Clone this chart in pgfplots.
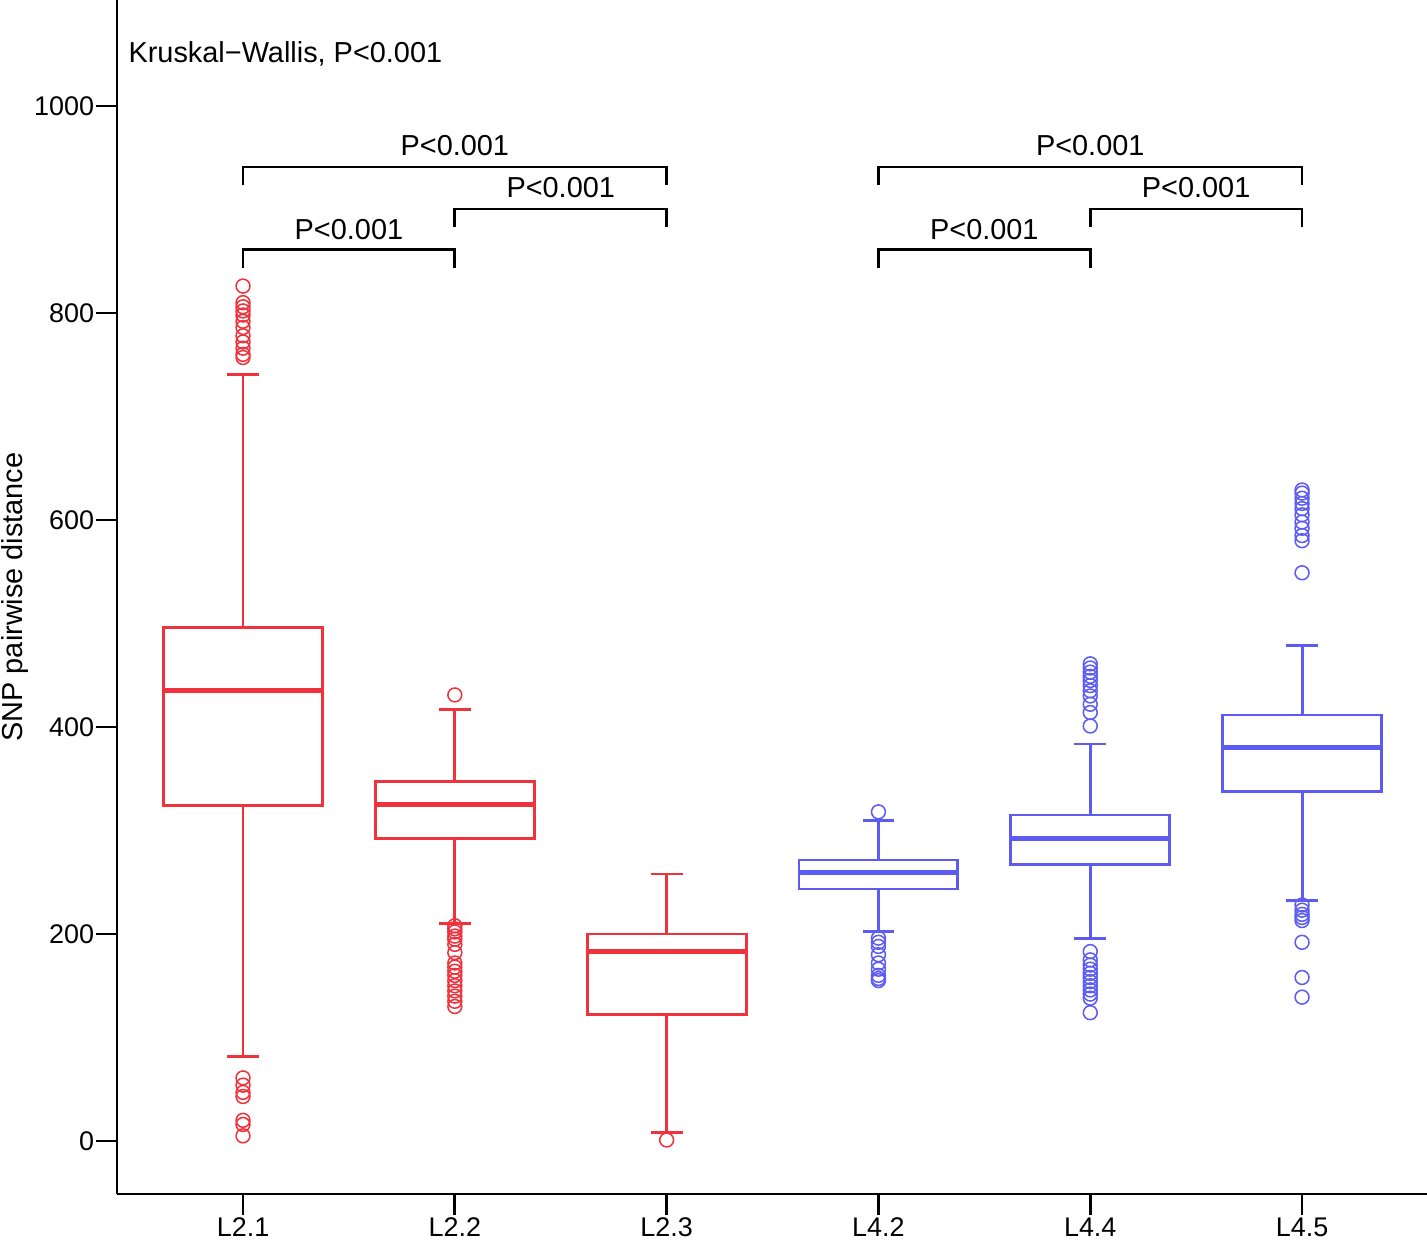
\documentclass[border=0pt]{standalone}
\usepackage{fontspec}
\setmainfont{Liberation Sans}
\usepackage{pgfplots}
\pgfplotsset{compat=1.18}
\definecolor{rd}{RGB}{240,50,60}
\definecolor{bl}{RGB}{92,92,245}
\newcommand{\fs}{\fontsize{9.7pt}{11.6pt}\selectfont}
\newcommand{\fa}{\fontsize{10.4pt}{12.4pt}\selectfont}
\begin{document}
\begin{tikzpicture}
\useasboundingbox (-42.12pt,-18.36pt) rectangle (471.6pt,429.84pt);
\begin{axis}[
  scale only axis, width=471.6pt, height=429.84pt,
  at={(0,0)}, anchor=south west,
  xmin=0.405, xmax=6.59, ymin=-51.2, ymax=1102.4,
  axis x line*=bottom, axis y line*=left,
  axis line style={line width=1pt},
  every tick/.style={line width=1pt, black},
  tick align=outside, major tick length=7.5pt,
  xtick={1,2,3,4,5,6},
  xticklabels={L2.1,L2.2,L2.3,L4.2,L4.4,L4.5},
  ytick={0,200,400,600,800,1000},
  /pgf/number format/assume math mode=true,
  /pgf/number format/1000 sep={},
  ticklabel style={font=\fs},
  xticklabel style={yshift=2.4pt},
  yticklabel style={xshift=2.8pt},
  ylabel={SNP pairwise distance},
  ylabel style={font=\fa, at={(axis description cs:-0.0778,0.5)}, anchor=center},
  clip=false,
  every axis plot/.append style={line join=miter},
]
% ---- L2.1
\addplot[rd, line width=1.05pt] coordinates {(0.625,324.6) (1.375,324.6) (1.375,495.7) (0.625,495.7) (0.625,324.6)} -- cycle;
\addplot[rd, line width=1.8pt] coordinates {(0.625,434.8) (1.375,434.8)};
\addplot[rd, line width=1.05pt] coordinates {(1,495.7) (1,741)};
\addplot[rd, line width=1.05pt] coordinates {(1,324.6) (1,82)};
\addplot[rd, line width=1.05pt] coordinates {(0.925,741) (1.075,741)};
\addplot[rd, line width=1.05pt] coordinates {(0.925,82) (1.075,82)};
% ---- L2.2
\addplot[rd, line width=1.05pt] coordinates {(1.625,292) (2.375,292) (2.375,347) (1.625,347) (1.625,292)} -- cycle;
\addplot[rd, line width=1.8pt] coordinates {(1.625,325) (2.375,325)};
\addplot[rd, line width=1.05pt] coordinates {(2,347) (2,417)};
\addplot[rd, line width=1.05pt] coordinates {(2,292) (2,210)};
\addplot[rd, line width=1.05pt] coordinates {(1.925,417) (2.075,417)};
\addplot[rd, line width=1.05pt] coordinates {(1.925,210) (2.075,210)};
% ---- L2.3
\addplot[rd, line width=1.05pt] coordinates {(2.625,122) (3.375,122) (3.375,200) (2.625,200) (2.625,122)} -- cycle;
\addplot[rd, line width=1.8pt] coordinates {(2.625,183) (3.375,183)};
\addplot[rd, line width=1.05pt] coordinates {(3,200) (3,258)};
\addplot[rd, line width=1.05pt] coordinates {(3,122) (3,8)};
\addplot[rd, line width=1.05pt] coordinates {(2.925,258) (3.075,258)};
\addplot[rd, line width=1.05pt] coordinates {(2.925,8) (3.075,8)};
% ---- L4.2
\addplot[bl, line width=1.05pt] coordinates {(3.625,243.5) (4.375,243.5) (4.375,271.5) (3.625,271.5) (3.625,243.5)} -- cycle;
\addplot[bl, line width=1.8pt] coordinates {(3.625,259) (4.375,259)};
\addplot[bl, line width=1.05pt] coordinates {(4,271.5) (4,310)};
\addplot[bl, line width=1.05pt] coordinates {(4,243.5) (4,202)};
\addplot[bl, line width=1.05pt] coordinates {(3.925,310) (4.075,310)};
\addplot[bl, line width=1.05pt] coordinates {(3.925,202) (4.075,202)};
% ---- L4.4
\addplot[bl, line width=1.05pt] coordinates {(4.625,267.6) (5.375,267.6) (5.375,315) (4.625,315) (4.625,267.6)} -- cycle;
\addplot[bl, line width=1.8pt] coordinates {(4.625,292) (5.375,292)};
\addplot[bl, line width=1.05pt] coordinates {(5,315) (5,383.6)};
\addplot[bl, line width=1.05pt] coordinates {(5,267.6) (5,196)};
\addplot[bl, line width=1.05pt] coordinates {(4.925,383.6) (5.075,383.6)};
\addplot[bl, line width=1.05pt] coordinates {(4.925,196) (5.075,196)};
% ---- L4.5
\addplot[bl, line width=1.05pt] coordinates {(5.625,338) (6.375,338) (6.375,411.6) (5.625,411.6) (5.625,338)} -- cycle;
\addplot[bl, line width=1.8pt] coordinates {(5.625,380) (6.375,380)};
\addplot[bl, line width=1.05pt] coordinates {(6,411.6) (6,479)};
\addplot[bl, line width=1.05pt] coordinates {(6,338) (6,232)};
\addplot[bl, line width=1.05pt] coordinates {(5.925,479) (6.075,479)};
\addplot[bl, line width=1.05pt] coordinates {(5.925,232) (6.075,232)};
% outliers
\addplot[rd, only marks, mark=o, mark size=2.5pt, mark options={line width=0.55pt}]
  coordinates {(1,826) (1,810) (1,806) (1,802) (1,798) (1,792) (1,786) (1,778) (1,772) (1,766) (1,760) (1,757)
  (1,61) (1,54) (1,47) (1,43) (1,20) (1,16) (1,5)
  (2,431) (2,208) (2,205) (2,202) (2,198) (2,195) (2,190) (2,182) (2,172) (2,168) (2,164) (2,160) (2,155) (2,150) (2,145) (2,140) (2,135) (2,130)
  (3,1)};
\addplot[bl, only marks, mark=o, mark size=2.5pt, mark options={line width=0.55pt}]
  coordinates {(4,318) (4,196) (4,192) (4,188) (4,180) (4,172) (4,166) (4,160) (4,157) (4,155)
  (5,461) (5,457) (5,453) (5,449) (5,445) (5,440) (5,435) (5,430) (5,422) (5,414) (5,401)
  (5,183) (5,175) (5,170) (5,166) (5,162) (5,158) (5,154) (5,150) (5,146) (5,142) (5,138) (5,124)
  (6,629) (6,626) (6,621) (6,616) (6,611) (6,605) (6,598) (6,592) (6,585) (6,580) (6,549)
  (6,228) (6,223) (6,219) (6,216) (6,213) (6,192) (6,158) (6,139)};
% brackets
\addplot[black, line width=1pt, mark=none] coordinates {(1,843.5) (1,861) (2,861) (2,843.5)};
\addplot[black, line width=1pt, mark=none] coordinates {(2,883) (2,900.5) (3,900.5) (3,883)};
\addplot[black, line width=1pt, mark=none] coordinates {(1,923.7) (1,941) (3,941) (3,923.7)};
\addplot[black, line width=1pt, mark=none] coordinates {(4,843.5) (4,861) (5,861) (5,843.5)};
\addplot[black, line width=1pt, mark=none] coordinates {(5,883) (5,900.5) (6,900.5) (6,883)};
\addplot[black, line width=1pt, mark=none] coordinates {(4,923.7) (4,941) (6,941) (6,923.7)};
\node[font=\fa] at (axis cs:1.5,881) {P<0.001};
\node[font=\fa] at (axis cs:2.5,921.5) {P<0.001};
\node[font=\fa] at (axis cs:2,961.5) {P<0.001};
\node[font=\fa] at (axis cs:4.5,881) {P<0.001};
\node[font=\fa] at (axis cs:5.5,921.5) {P<0.001};
\node[font=\fa] at (axis cs:5,961.5) {P<0.001};
\node[font=\fa, anchor=west, inner sep=0pt] at (axis cs:0.457,1050) {Kruskal−Wallis, P<0.001};
\end{axis}
\end{tikzpicture}
\end{document}
